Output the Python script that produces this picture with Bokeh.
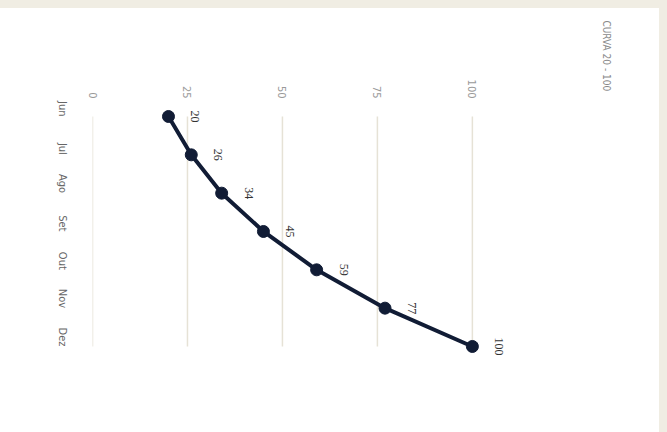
import math
from bokeh.plotting import figure
from bokeh.models import Range1d, FixedTicker, Title, Spacer
from bokeh.layouts import column, row
from bokeh.embed import file_html
from bokeh.resources import INLINE

months = ["Jun", "Jul", "Ago", "Set", "Out", "Nov", "Dez"]
values = [20, 26, 34, 45, 59, 77, 100]
value_ticks = [0, 25, 50, 75, 100]
title_text = "CURVA 20 - 100"

BEIGE = "#f0ede3"
NAVY = "#111c35"
FONT = "DejaVu Sans Condensed"

pos = list(range(len(months)))

p = figure(width=659, height=424,
           x_range=Range1d(0, 133.2), y_range=Range1d(7.618, -0.2087),
           x_axis_location="above", output_backend="svg", toolbar_location=None,
           min_border_left=92, min_border_right=61, min_border_top=100, min_border_bottom=24)
p.background_fill_color = "#ffffff"
p.border_fill_color = "#ffffff"
p.outline_line_color = None
p.grid.visible = False
p.styles = {"background-color": "#ffffff"}

p.xaxis.ticker = FixedTicker(ticks=value_ticks)
p.yaxis.ticker = FixedTicker(ticks=pos)
p.yaxis.major_label_overrides = {i: m for i, m in enumerate(months)}
p.xaxis.major_label_orientation = -math.pi / 2
p.yaxis.major_label_orientation = -math.pi / 2
p.axis.axis_line_color = None
p.axis.major_tick_line_color = None
p.axis.minor_tick_line_color = None
p.xaxis.major_label_text_color = "#9a9a9a"
p.yaxis.major_label_text_color = "#666666"
p.axis.major_label_text_font = FONT
p.axis.major_label_text_font_size = "11px"
p.xaxis.major_label_standoff = 4
p.yaxis.major_label_standoff = 24

# vertical grid lines spanning first..last category
n = len(value_ticks)
p.segment(x0=value_ticks, y0=[pos[0]] * n, x1=value_ticks, y1=[pos[-1]] * n,
          line_color="#e6e2d6", line_width=1.5)

p.line(values, pos, line_color=NAVY, line_width=4)
p.scatter(values, pos, size=12, color=NAVY)

p.text(values, pos, text=[str(v) for v in values], angle=-math.pi / 2,
       text_align="center", text_baseline="bottom", x_offset=23,
       text_font_size="12px", text_color="#333333", text_font=FONT)

p.add_layout(Title(text=title_text, align="left", offset=-88, standoff=4,
                   text_font_size="10px", text_font_style="normal",
                   text_color="#8a8a8a", text_font=FONT), "right")

layout = column(Spacer(width=667, height=8, styles={"background-color": BEIGE}),
                row(p, Spacer(width=8, height=424, styles={"background-color": BEIGE}),
                    styles={"background-color": "#ffffff"}),
                styles={"background-color": "#ffffff"})

open("out.html", "w").write(file_html(layout, INLINE))
